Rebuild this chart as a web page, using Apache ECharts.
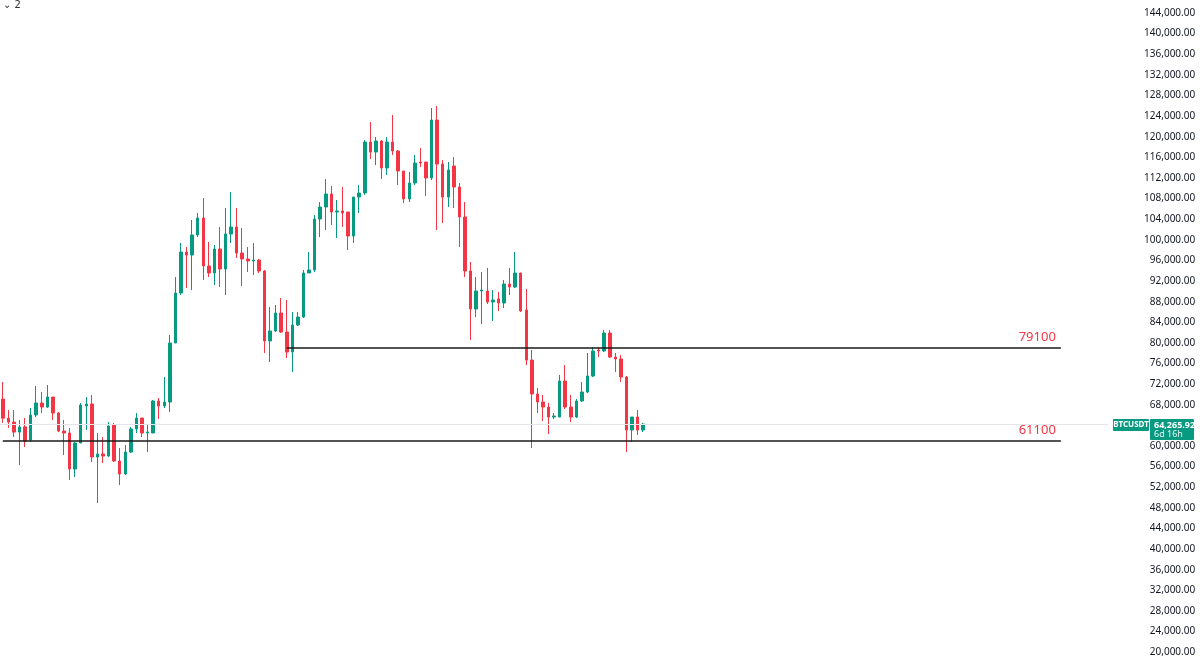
<!DOCTYPE html>
<html>
<head>
<meta charset="utf-8">
<title>BTCUSDT</title>
<script src="https://cdn.jsdelivr.net/npm/echarts@6/dist/echarts.min.js"></script>
<style>
html, body { margin: 0; padding: 0; background: #fff; }
#chart { width: 1200px; height: 665px; }
</style>
</head>
<body>
<div id="chart"></div>
<script>
// weekly candles, first week shown
var firstWeek = '2024-04-08';
var slotCount = 199; // candles + empty space on the right

var opens = [
  69100, 65400, 64650, 62700, 63700, 61160, 66010, 68340, 67560, 69500,
  66400, 62910, 62520, 55540, 60580, 67760, 68150, 57860, 58450, 58060,
  64070, 57090, 54570, 58830, 63300, 65430, 62520, 62520, 68730, 67760,
  68530, 79980, 89680, 97630, 97050, 100930, 104230, 94920, 93560, 98220,
  94340, 101130, 102480, 97440, 96280, 95890, 96080, 93950, 80370, 82310,
  85800, 82110, 78230, 83470, 85020, 93560, 94140, 104040, 106360, 108890,
  105390, 105590, 105390, 100740, 108300, 109080, 118970, 117030, 119170, 113930,
  118970, 117230, 113350, 107920, 111020, 115090, 115090, 111990, 123240, 114710,
  108300, 114320, 110240, 104420, 93950, 86580, 90070, 90070, 87930, 88520,
  87740, 91430, 90840, 93560, 86380, 76680, 70090, 68530, 67560, 65620,
  65620, 72610, 67560, 65620, 68730, 70470, 73580, 78620, 78430, 81920,
  77260, 76880, 73380, 63100, 65620, 63100
];
var closes = [
  65400, 64650, 62700, 63700, 60970, 66010, 68340, 67560, 69500, 66400,
  62910, 62520, 55540, 60580, 67950, 68150, 57860, 58450, 58060, 63880,
  57090, 54570, 58830, 63300, 65430, 62520, 62710, 68730, 67760, 68530,
  79980, 89680, 97630, 97050, 100930, 104230, 94920, 93560, 98220, 94340,
  101130, 102480, 97440, 96280, 95890, 96080, 93950, 80370, 82310, 85800,
  82110, 78230, 83470, 85020, 93560, 94140, 104040, 106360, 108890, 105390,
  105590, 105200, 100740, 108300, 109080, 118970, 117030, 119170, 113930, 118970,
  117230, 113350, 107920, 111020, 114900, 114900, 111990, 123240, 114710, 108300,
  113540, 110240, 104420, 93950, 86580, 90070, 90260, 87930, 88320, 87740,
  91430, 90840, 93560, 86190, 76680, 70090, 68530, 67560, 65620, 65820,
  72610, 67560, 65620, 68730, 70470, 73580, 78430, 78430, 81920, 77260,
  76880, 73380, 63100, 65620, 63100, 64265.92
];
var lows = [
  64500, 63500, 61740, 56300, 59800, 60770, 65620, 66400, 67370, 65040,
  62710, 58250, 53400, 53980, 60580, 63100, 56890, 48940, 56700, 57860,
  56890, 52430, 54370, 58640, 62520, 61740, 58830, 62520, 65240, 67370,
  66590, 79980, 89290, 90650, 90260, 100540, 92200, 92780, 91230, 90840,
  89290, 99380, 96470, 91040, 93750, 93170, 93560, 78040, 76290, 82110,
  81920, 77070, 74350, 83280, 84830, 93560, 93750, 100540, 101900, 102870,
  100350, 102480, 98020, 99380, 105200, 108690, 115680, 114510, 111800, 112570,
  116450, 110630, 107140, 107330, 110630, 114120, 108500, 111600, 101900, 103260,
  106360, 106170, 98600, 92780, 80560, 85020, 83670, 87550, 84250, 86190,
  86770, 89290, 90650, 85990, 75710, 59610, 66400, 64850, 62330, 65240,
  65620, 67180, 64650, 65430, 68530, 70280, 73380, 77260, 78230, 77070,
  74350, 72410, 58830, 60770, 62130, 62710
];
var highs = [
  72400, 66980, 66980, 65040, 65430, 67370, 71640, 70470, 71830, 69500,
  66590, 65040, 63490, 60770, 68340, 69500, 69890, 62520, 61740, 64650,
  64460, 59610, 60190, 63680, 66400, 65430, 64070, 68920, 69310, 73380,
  81530, 92780, 99380, 98600, 103840, 105200, 108110, 99570, 98990, 102480,
  106170, 109270, 106170, 102290, 98600, 99380, 96280, 94140, 86960, 87350,
  88710, 88320, 85990, 85990, 94140, 97630, 104810, 107330, 111800, 110440,
  107720, 110240, 105390, 108300, 110630, 119360, 122850, 119940, 119360, 119940,
  124210, 117420, 113350, 113150, 116450, 117810, 115090, 125570, 125960, 115480,
  115090, 116060, 111020, 107330, 95690, 92780, 93750, 94530, 90260, 89870,
  92200, 94530, 97630, 93560, 90460, 78620, 71250, 69890, 68340, 66400,
  73770, 75710, 69890, 69120, 72410, 78040, 79200, 79200, 82500, 82500,
  78040, 77650, 73580, 65620, 66980, 64460
];

// horizontal levels drawn on the chart
var levels = [79100, 61100];
var levelStart = [51, 0];   // candle index where each level begins
var levelEnd = 190;
var lastPrice = 64265.92;
var symbolName = 'BTCUSDT';
var timeLeft = '6d 16h';

var upColor = '#089981';
var downColor = '#f23645';

var categories = [];
var d0 = new Date(firstWeek + 'T00:00:00Z');
for (var i = 0; i < slotCount; i++) {
  var d = new Date(d0.getTime() + i * 7 * 86400000);
  categories.push(d.toISOString().slice(0, 10));
}

var candles = opens.map(function (o, i) {
  return [o, closes[i], lows[i], highs[i]];
});

function fmtPrice(v) {
  return v.toLocaleString('en-US', { minimumFractionDigits: 2, maximumFractionDigits: 2 });
}

var levelLines = levels.map(function (lv, i) {
  var lab = {
    show: true,
    position: 'insideEndTop',
    formatter: String(lv),
    color: '#f23645',
    fontSize: 13,
    fontFamily: 'Noto Sans',
    distance: [5, 4]
  };
  return [
    { coord: [categories[levelStart[i]], lv], label: lab },
    { coord: [categories[levelEnd], lv], label: lab }
  ];
});

var myChart = echarts.init(document.getElementById('chart'), null, { renderer: 'canvas' });

var option = {
  animation: false,
  backgroundColor: '#ffffff',
  grid: {
    left: -2.6,
    top: 13,
    width: 1110.8,
    height: 639.2
  },
  xAxis: {
    type: 'category',
    data: categories,
    boundaryGap: true,
    show: false
  },
  yAxis: {
    type: 'value',
    position: 'right',
    min: 20000,
    max: 144000,
    interval: 4000,
    axisLine: { show: false },
    axisTick: { show: false },
    splitLine: { show: false },
    axisLabel: {
      align: 'right',
      margin: 87,
      color: '#131722',
      fontSize: 10,
      fontFamily: 'Noto Sans',
      formatter: fmtPrice
    }
  },
  series: [{
    type: 'candlestick',
    data: candles,
    barWidth: 3,
    itemStyle: {
      color: upColor,
      color0: downColor,
      borderColor: upColor,
      borderColor0: downColor,
      borderWidth: 1
    },
    markLine: {
      silent: true,
      animation: false,
      symbol: ['none', 'none'],
      lineStyle: { color: '#1a1a1a', width: 1.6, type: 'solid' },
      data: [
        {
          yAxis: lastPrice,
          lineStyle: { color: '#e3e5ea', width: 1, type: 'solid' },
          label: { show: false }
        }
      ].concat(levelLines)
    }
  }]
};

myChart.setOption(option);

// price tag on the right axis, drawn above the axis labels
var yPx = myChart.convertToPixel({ yAxisIndex: 0 }, lastPrice);
var tagTop = Math.round(yPx) - 5;
myChart.setOption({
  graphic: [
    {
      type: 'text', left: 3, top: 0, z: 100,
      style: { text: '⌄ 2', fill: '#333', font: '10px "DejaVu Sans"' }
    },
    {
      type: 'rect', z: 100, shape: { x: 1112, y: tagTop - 1, width: 84, height: 23 },
      style: { fill: '#ffffff' }
    },
    {
      type: 'rect', z: 101, shape: { x: 1113, y: tagTop, width: 36, height: 12, r: 1 },
      style: { fill: upColor }
    },
    {
      type: 'text', z: 102, x: 1131, y: tagTop + 6,
      style: { text: symbolName, fill: '#fff', font: 'bold 8px "Noto Sans"', align: 'center', verticalAlign: 'middle' }
    },
    {
      type: 'rect', z: 101, shape: { x: 1150, y: tagTop, width: 44, height: 21, r: 1 },
      style: { fill: upColor }
    },
    {
      type: 'text', z: 102, x: 1154, y: tagTop + 6,
      style: { text: fmtPrice(lastPrice), fill: '#fff', font: 'bold 9px "Noto Sans"', verticalAlign: 'middle' }
    },
    {
      type: 'text', z: 102, x: 1154, y: tagTop + 15.5,
      style: { text: timeLeft, fill: '#e6f5f1', font: '9px "Noto Sans"', verticalAlign: 'middle' }
    }
  ]
});
</script>
</body>
</html>
